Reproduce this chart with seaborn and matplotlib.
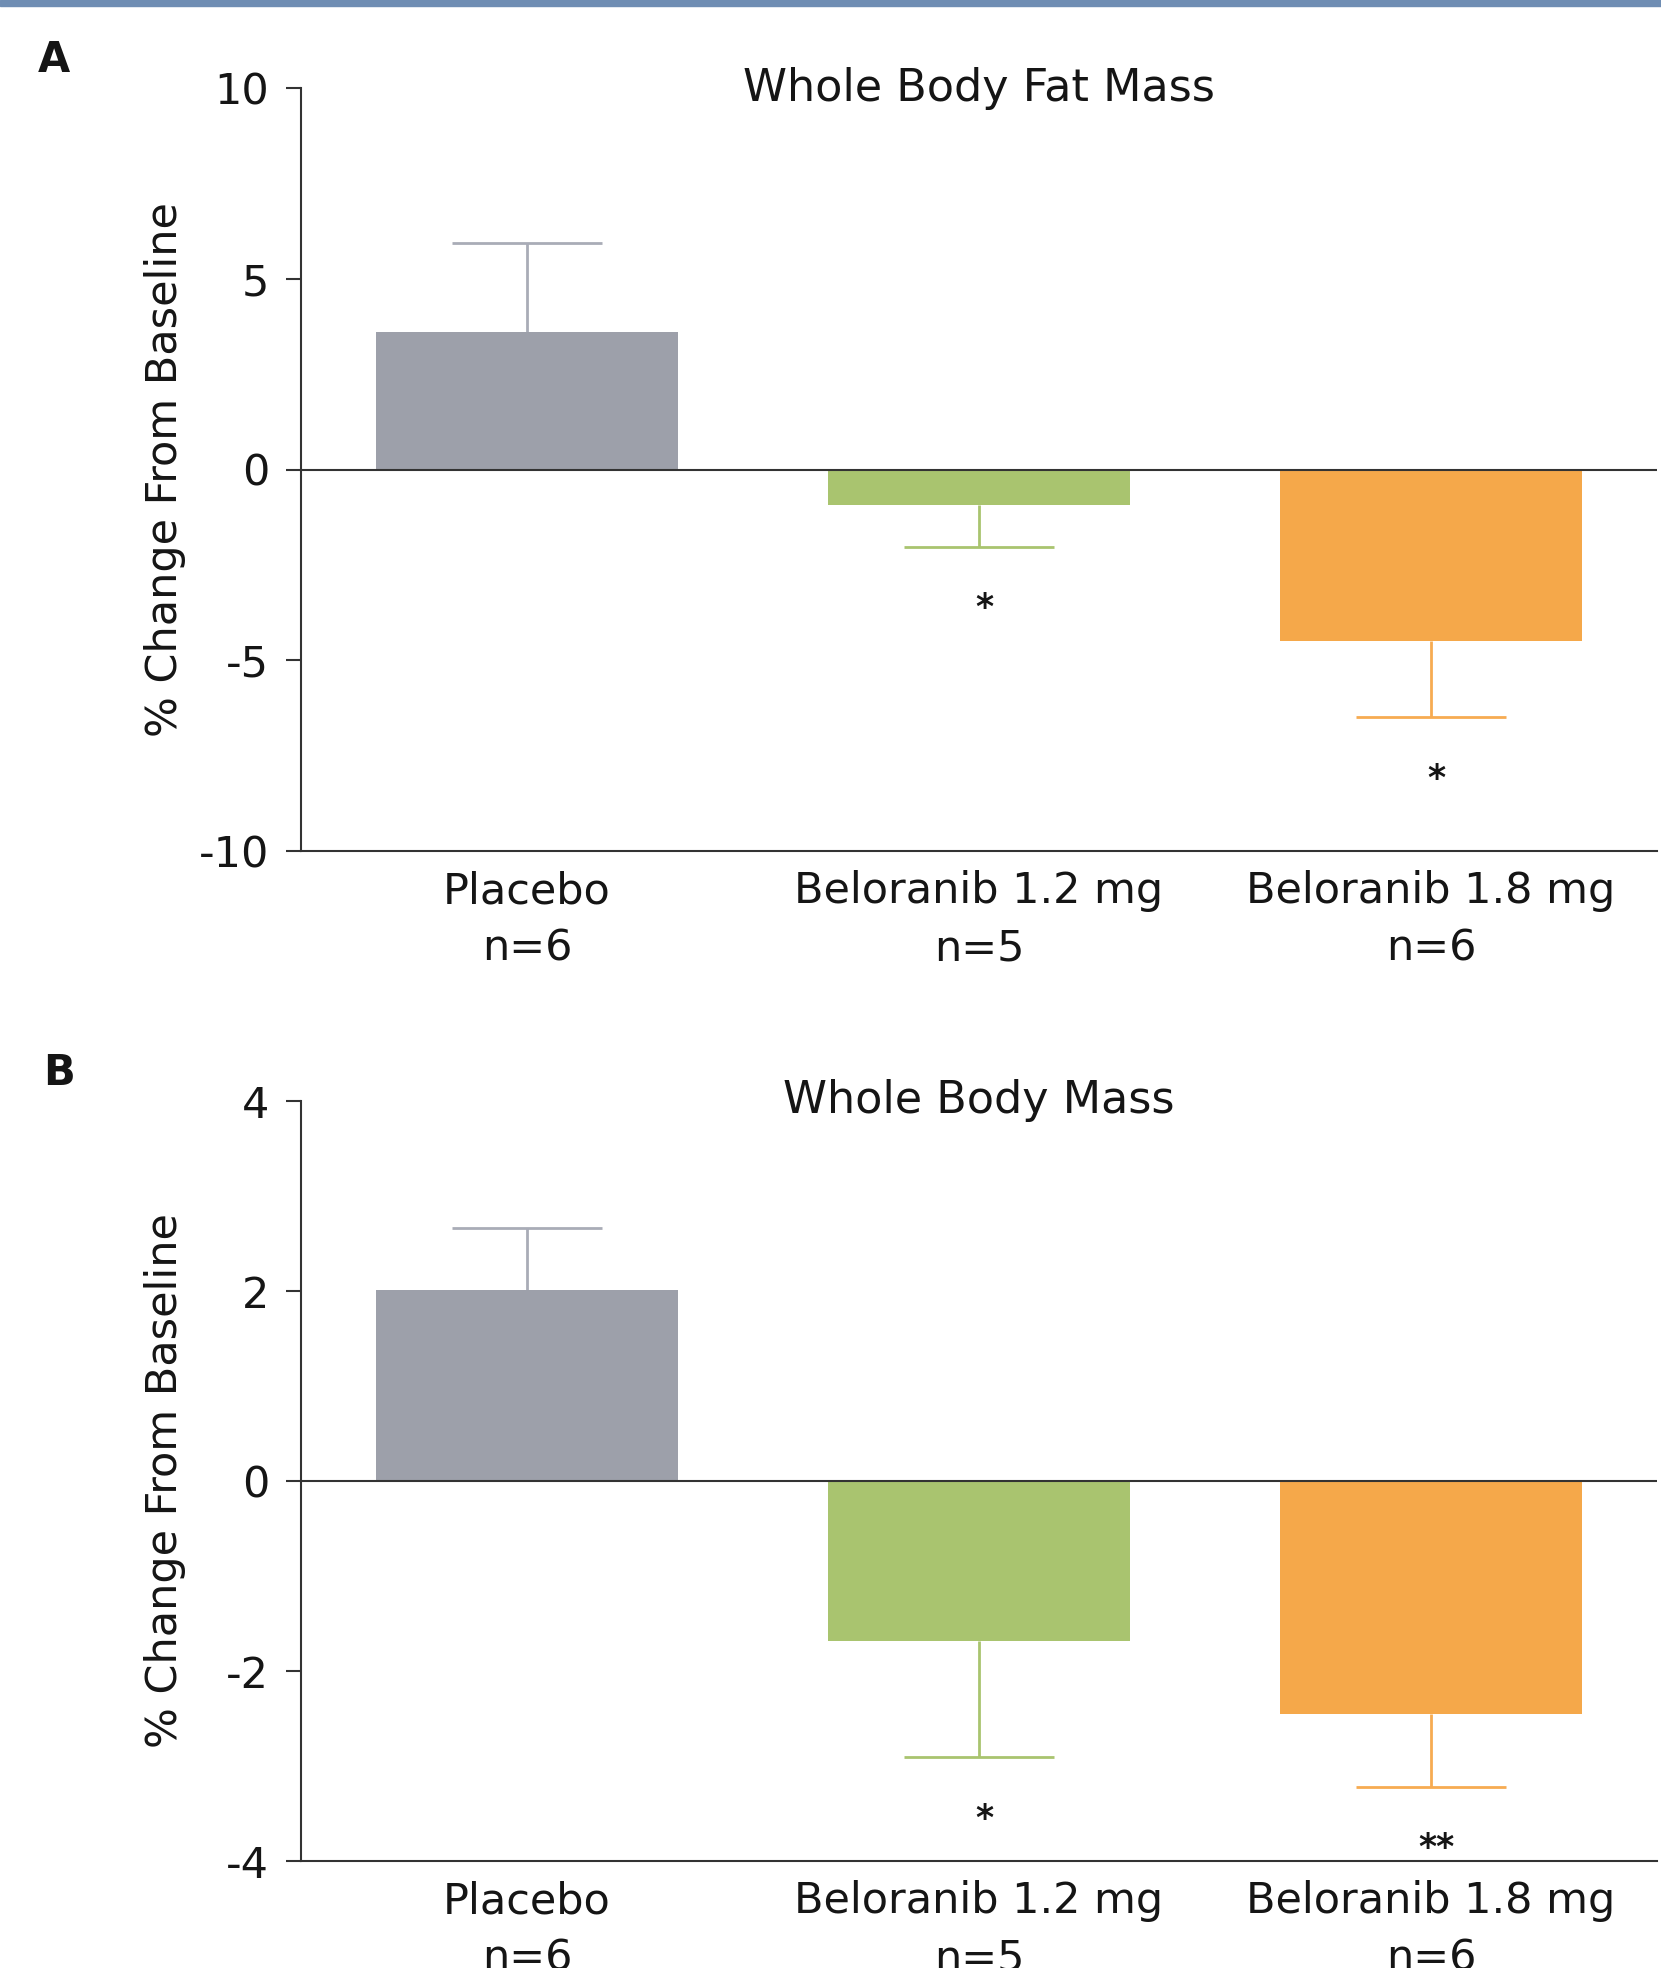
import pandas as pd
import numpy as np
import seaborn as sns
from matplotlib import pyplot as plt
from matplotlib.patches import Rectangle

# === Data ===
groups = ["Placebo\nn=6", "Beloranib 1.2 mg\nn=5", "Beloranib 1.8 mg\nn=6"]
fat_mean = [3.6, -0.92, -4.5]
fat_err = [2.35, 1.12, 2.0]
fat_stars = ["", "*", "*"]
mass_mean = [2.01, -1.68, -2.45]
mass_err = [0.65, 1.23, 0.77]
mass_stars = ["", "*", "**"]

bar_colors = ["#9da0aa", "#a9c46f", "#f5a84a"]
err_colors = ["#a9acb7", "#a9c46f", "#f7ab52"]

sns.set_style("ticks")
plt.rcParams["font.family"] = ["DejaVu Sans"]
plt.rcParams["axes.unicode_minus"] = False
text_col = "#151515"
spine_col = "#333333"

fig = plt.figure(figsize=(16.61, 19.68), dpi=100)
W, H = 1661, 1968


def add_axes(top_px, bottom_px):
    left, right = 301, 1657
    return fig.add_axes([left / W, 1 - bottom_px / H, (right - left) / W, (bottom_px - top_px) / H])


def draw_panel(ax, means, errs, stars, title, ylim, yticks):
    df = pd.DataFrame({"group": groups, "value": means})
    sns.barplot(data=df, x="group", y="value", hue="group", palette=bar_colors,
                saturation=1, errorbar=None, width=0.667, legend=False, ax=ax,
                zorder=2, linewidth=0)
    # one-sided error bars, pointing away from zero
    for i, (m, e) in enumerate(zip(means, errs)):
        yerr = [[0], [e]] if m >= 0 else [[e], [0]]
        _, caps, _ = ax.errorbar([i], [m], yerr=yerr, fmt="none", ecolor=err_colors[i],
                                 elinewidth=2.0, capsize=54, capthick=2.0, zorder=1)
        # drop the cap sitting on the bar end
        caps[0 if m >= 0 else 1].remove()
        if stars[i]:
            ax.annotate(stars[i], xy=(i, m - e), xytext=(4, -44),
                        textcoords="offset points", ha="center", va="center",
                        fontsize=25, fontweight="bold", color=text_col)
    ax.axhline(0, color=spine_col, lw=1.5, zorder=3)
    ax.set_xlim(-0.5, 2.5)
    ax.set_ylim(*ylim)
    ax.set_yticks(yticks)
    ax.set_yticklabels([str(t) for t in yticks])
    ax.set_xlabel("")
    ax.set_ylabel("% Change From Baseline", fontsize=31, color=text_col)
    ax.yaxis.set_label_coords(-0.085, 0.5)
    ax.tick_params(axis="y", length=11, width=1.5, pad=12, labelsize=31,
                   colors=spine_col, labelcolor=text_col)
    ax.tick_params(axis="x", length=0, pad=14, labelsize=31, labelcolor=text_col)
    for lab in ax.get_xticklabels():
        lab.set_linespacing(1.45)
    sns.despine(ax=ax)
    for s in ["left", "bottom"]:
        ax.spines[s].set_linewidth(1.5)
        ax.spines[s].set_color(spine_col)
    ax.text(0.5, 1.0, title, transform=ax.transAxes, ha="center", va="center",
            fontsize=32, color=text_col)


ax_a = add_axes(88, 851)
draw_panel(ax_a, fat_mean, fat_err, fat_stars, "Whole Body Fat Mass",
           (-10, 10), [10, 5, 0, -5, -10])

ax_b = add_axes(1101, 1861)
draw_panel(ax_b, mass_mean, mass_err, mass_stars, "Whole Body Mass",
           (-4, 4), [4, 2, 0, -2, -4])

fig.text(54 / W, 1 - 60 / H, "A", fontsize=30, fontweight="bold", color=text_col,
         ha="center", va="center")
fig.text(59 / W, 1 - 1073 / H, "B", fontsize=30, fontweight="bold", color=text_col,
         ha="center", va="center")

# thin blue rule along the top edge
fig.patches.append(Rectangle((0, 1 - 6 / H), 1, 6 / H, transform=fig.transFigure,
                             color="#6f8db3", zorder=5))

fig.savefig("out.png", dpi=100)
